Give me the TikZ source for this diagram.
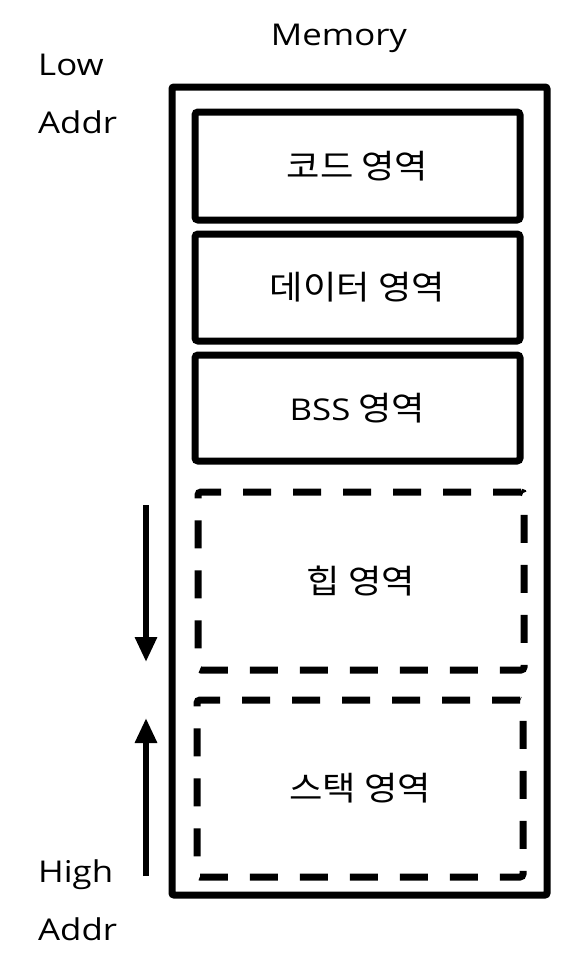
\documentclass[tikz,border=0pt]{standalone}
\usepackage{fontspec}
\usetikzlibrary{arrows.meta}
\newfontfamily\latf{Open Sans}[FakeStretch=1.16]
\newfontfamily\krf{Noto Sans CJK KR}[FakeStretch=1.1]
\tikzset{
  x=1pt, y=-1pt,
  solidbox/.style={draw, line width=7pt, rounded corners=3pt, inner sep=0pt,
    font=\krf\fontsize{33}{38}\selectfont},
  dashbox/.style={draw, line width=7pt, dash pattern=on 28pt off 22pt, rounded corners=3pt, inner sep=0pt,
    font=\krf\fontsize{33}{38}\selectfont},
  outerbox/.style={draw, line width=7pt, rounded corners=2pt, inner sep=0pt},
  lat/.style={inner sep=0pt, font=\latf\fontsize{30}{36}\selectfont},
  arr/.style={line width=6pt, -{Triangle[width=21pt,length=25pt]}},
}
\begin{document}
\begin{tikzpicture}
\useasboundingbox (0,0) rectangle (570,964);
\node[outerbox, minimum width=375pt, minimum height=808pt] (outer) at (359.5,491) {};
\node[solidbox, minimum width=325pt, minimum height=108pt] (code) at (357.5,166) {코드 영역};
\node[solidbox, minimum width=325pt, minimum height=107pt] (data) at (357.5,287.5) {데이터 영역};
\node[solidbox, minimum width=325pt, minimum height=106pt] (bss) at (357.5,408) {{\latf\fontsize{30}{36}\selectfont BSS} 영역};
\node[dashbox, minimum width=326pt, minimum height=178pt] (heap) at (361,581) {힙 영역};
\node[dashbox, minimum width=326pt, minimum height=177pt] (stack) at (360,788.5) {스택 영역};
\node[lat, anchor=base] (mem) at (339,45) {Memory};
\node[lat, anchor=base west] (low) at (38,75) {Low};
\node[lat, anchor=base west] (laddr) at (38,133) {Addr};
\node[lat, anchor=base west] (high) at (38,882) {High};
\node[lat, anchor=base west] (haddr) at (38,940) {Addr};
\coordinate (d1) at (146,505);
\coordinate (d2) at (146,662);
\coordinate (u1) at (146,876);
\coordinate (u2) at (146,718);
\draw[arr] (d1) -- (d2);
\draw[arr] (u1) -- (u2);
\end{tikzpicture}
\end{document}
